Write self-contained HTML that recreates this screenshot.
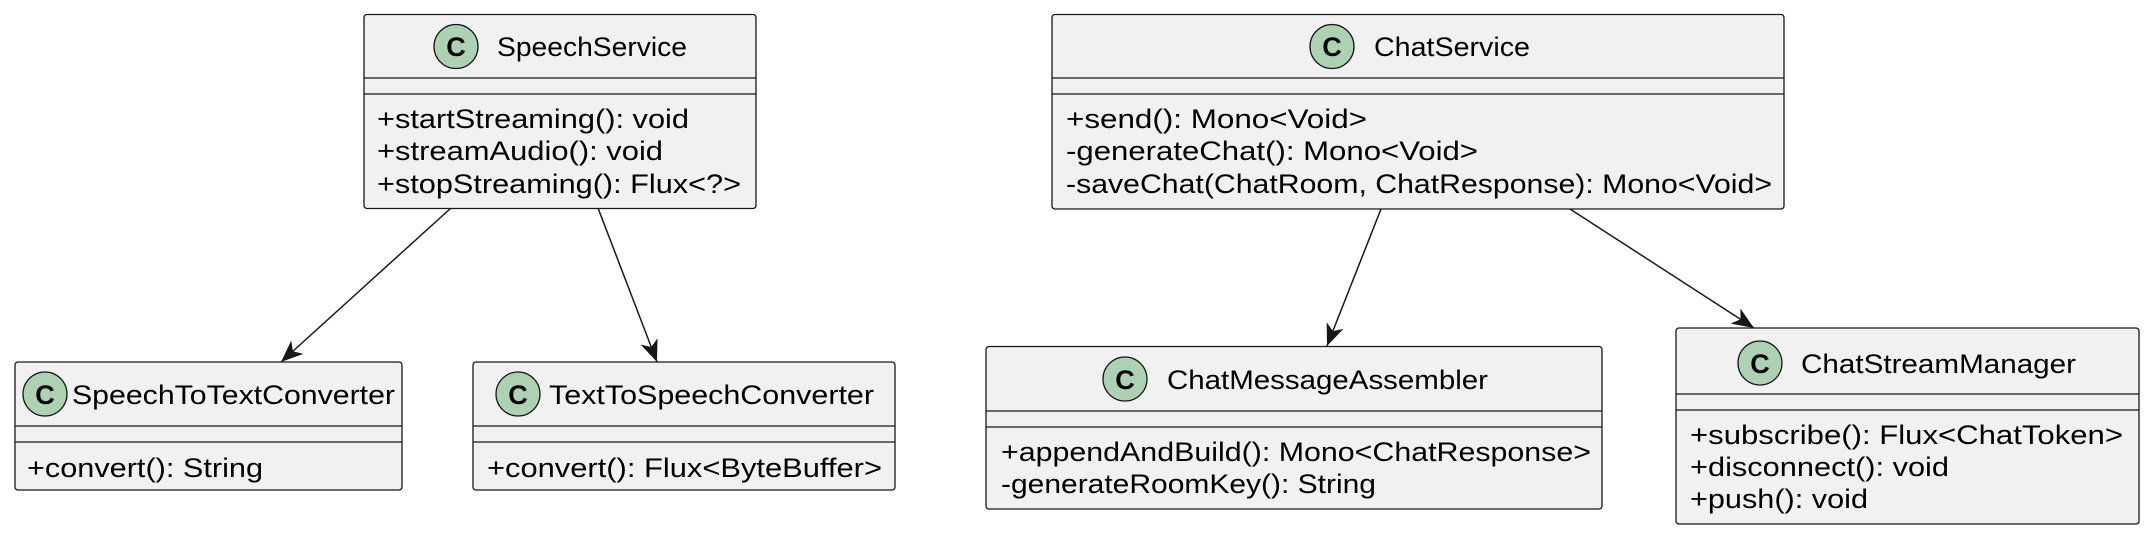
<!DOCTYPE html>
<html><head><meta charset="utf-8"><style>html,body{margin:0;padding:0;background:#fff}svg{display:block}</style></head>
<body>
<svg width="2147" height="535" viewBox="0 0 2147 535" xmlns="http://www.w3.org/2000/svg" font-family="Liberation Sans, sans-serif">
<defs>
<marker id="ar" markerWidth="24" markerHeight="24" viewBox="0 0 24 24" refX="22" refY="12" orient="auto" markerUnits="userSpaceOnUse">
<path d="M0,3 L22,12 L0,21 L6,12 Z" fill="#181818"/>
</marker>
</defs>
<g stroke="#181818" stroke-width="1.5">
<line x1="451" y1="208" x2="281" y2="362" marker-end="url(#ar)"/>
<line x1="598" y1="208" x2="657" y2="362" marker-end="url(#ar)"/>
<line x1="1381" y1="209" x2="1327" y2="346" marker-end="url(#ar)"/>
<line x1="1570" y1="209" x2="1754" y2="328" marker-end="url(#ar)"/>
</g>
<g fill="#F1F1F1" stroke="#181818" stroke-width="1.3">
<rect x="364" y="14.5" width="392" height="194" rx="3"/>
<rect x="15" y="362" width="387" height="128" rx="3"/>
<rect x="473" y="362" width="422" height="128" rx="3"/>
<rect x="1052" y="14.5" width="732" height="194.5" rx="3"/>
<rect x="986" y="346.5" width="616" height="162.5" rx="3"/>
<rect x="1676" y="328" width="463" height="196" rx="3"/>
</g>
<g stroke="#181818" stroke-width="1.3">
<line x1="364" y1="78" x2="756" y2="78"/><line x1="364" y1="94" x2="756" y2="94"/>
<line x1="15" y1="426" x2="402" y2="426"/><line x1="15" y1="442" x2="402" y2="442"/>
<line x1="473" y1="426" x2="895" y2="426"/><line x1="473" y1="442" x2="895" y2="442"/>
<line x1="1052" y1="78" x2="1784" y2="78"/><line x1="1052" y1="94" x2="1784" y2="94"/>
<line x1="986" y1="411" x2="1602" y2="411"/><line x1="986" y1="427" x2="1602" y2="427"/>
<line x1="1676" y1="394" x2="2139" y2="394"/><line x1="1676" y1="410" x2="2139" y2="410"/>
</g>
<g fill="#ADD1B2" stroke="#181818" stroke-width="1.3">
<circle cx="456" cy="46.5" r="22"/>
<circle cx="45" cy="394" r="22"/>
<circle cx="518" cy="394" r="22"/>
<circle cx="1332" cy="46.5" r="22"/>
<circle cx="1125" cy="379" r="22"/>
<circle cx="1760" cy="363" r="22"/>
</g>
<g font-weight="bold" font-size="27" text-anchor="middle" fill="#000">
<text x="456" y="56">C</text>
<text x="45" y="404">C</text>
<text x="518" y="404">C</text>
<text x="1332" y="56">C</text>
<text x="1125" y="389">C</text>
<text x="1760" y="373">C</text>
</g>
<g font-size="27" fill="#000">
<text x="497" y="56" textLength="190" lengthAdjust="spacingAndGlyphs">SpeechService</text>
<text x="377" y="128" textLength="312" lengthAdjust="spacingAndGlyphs">+startStreaming(): void</text>
<text x="377" y="160" textLength="286" lengthAdjust="spacingAndGlyphs">+streamAudio(): void</text>
<text x="377" y="193" textLength="364" lengthAdjust="spacingAndGlyphs">+stopStreaming(): Flux&lt;?&gt;</text>
<text x="72" y="404" textLength="323" lengthAdjust="spacingAndGlyphs">SpeechToTextConverter</text>
<text x="27" y="477" textLength="236" lengthAdjust="spacingAndGlyphs">+convert(): String</text>
<text x="549" y="404" textLength="325" lengthAdjust="spacingAndGlyphs">TextToSpeechConverter</text>
<text x="487" y="477" textLength="395" lengthAdjust="spacingAndGlyphs">+convert(): Flux&lt;ByteBuffer&gt;</text>
<text x="1374" y="56" textLength="156" lengthAdjust="spacingAndGlyphs">ChatService</text>
<text x="1066" y="128" textLength="301" lengthAdjust="spacingAndGlyphs">+send(): Mono&lt;Void&gt;</text>
<text x="1066" y="160" textLength="412" lengthAdjust="spacingAndGlyphs">-generateChat(): Mono&lt;Void&gt;</text>
<text x="1066" y="193" textLength="706" lengthAdjust="spacingAndGlyphs">-saveChat(ChatRoom, ChatResponse): Mono&lt;Void&gt;</text>
<text x="1167" y="389" textLength="321" lengthAdjust="spacingAndGlyphs">ChatMessageAssembler</text>
<text x="1001" y="461" textLength="590" lengthAdjust="spacingAndGlyphs">+appendAndBuild(): Mono&lt;ChatResponse&gt;</text>
<text x="1001" y="493" textLength="375" lengthAdjust="spacingAndGlyphs">-generateRoomKey(): String</text>
<text x="1801" y="373" textLength="275" lengthAdjust="spacingAndGlyphs">ChatStreamManager</text>
<text x="1690" y="444" textLength="433" lengthAdjust="spacingAndGlyphs">+subscribe(): Flux&lt;ChatToken&gt;</text>
<text x="1690" y="476" textLength="259" lengthAdjust="spacingAndGlyphs">+disconnect(): void</text>
<text x="1690" y="508" textLength="178" lengthAdjust="spacingAndGlyphs">+push(): void</text>
</g>
</svg>
</body></html>
